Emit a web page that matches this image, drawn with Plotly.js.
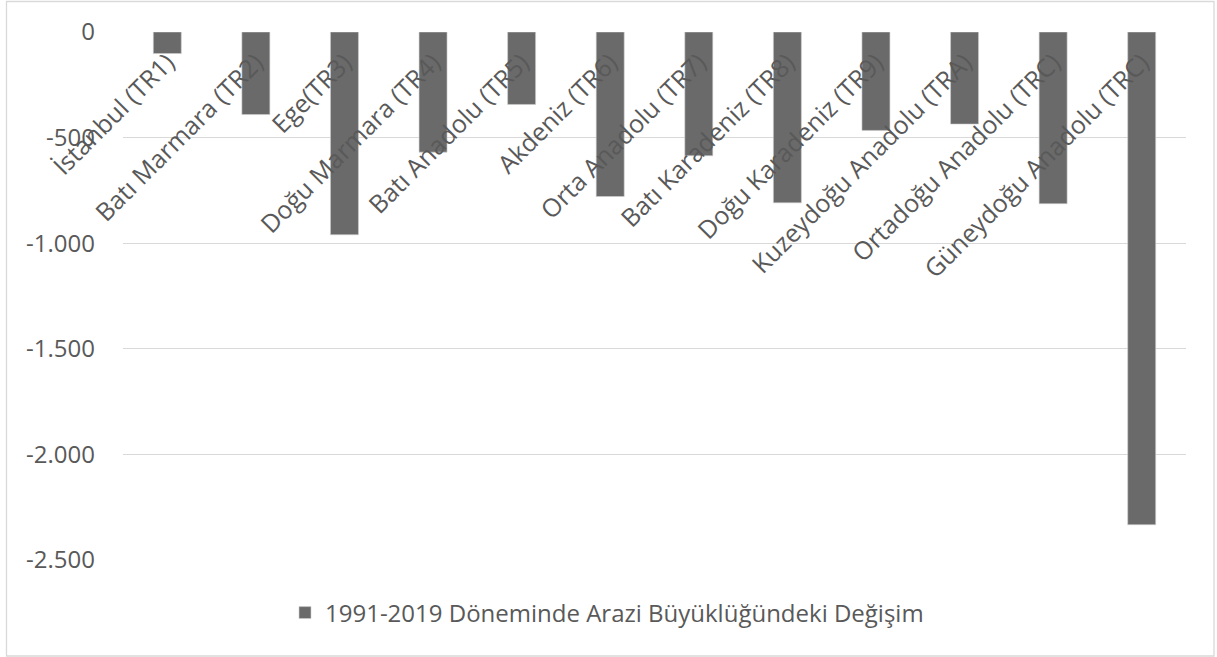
<!DOCTYPE html>
<html>
<head>
<meta charset="utf-8">
<script src="https://cdn.plot.ly/plotly-3.0.1.min.js"></script>
<style>
  html, body { margin: 0; padding: 0; background: #ffffff; }
  #chart { width: 1217px; height: 657px; }
</style>
</head>
<body>
<div id="chart"></div>
<script>
const categories = [
  "İstanbul (TR1)",
  "Batı Marmara (TR2)",
  "Ege(TR3)",
  "Doğu Marmara (TR4)",
  "Batı Anadolu (TR5)",
  "Akdeniz (TR6)",
  "Orta Anadolu (TR7)",
  "Batı Karadeniz (TR8)",
  "Doğu Karadeniz (TR9)",
  "Kuzeydoğu Anadolu (TRA)",
  "Ortadoğu Anadolu (TRC)",
  "Güneydoğu Anadolu (TRC)"
];
const changeValues = [-102, -391, -960, -569, -343, -779, -586, -809, -466, -436, -813, -2333];
const seriesName = "1991-2019 Döneminde Arazi Büyüklüğündeki Değişim";
const yTickValues = [0, -500, -1000, -1500, -2000, -2500];
const yTickLabels = ["0", "-500", "-1.000", "-1.500", "-2.000", "-2.500"];

const W = 1217, H = 657;
const mL = 123, mR = 31, mT = 32, mB = 97;
const pw = W - mL - mR, ph = H - mT - mB;
const px = x => (x - mL) / pw;
const py = y => (H - mB - y) / ph;

const font = "Open Sans, Noto Sans, sans-serif";
const txtColor = "#595959";

const trace = {
  type: "bar",
  x: categories,
  y: changeValues,
  name: seriesName,
  marker: { color: "#6a6a6a", line: { color: "#d0d0d0", width: 0.6 } },
  showlegend: true
};

const layout = {
  width: W, height: H,
  margin: { l: mL, r: mR, t: mT, b: mB, pad: 0 },
  paper_bgcolor: "#ffffff",
  plot_bgcolor: "#ffffff",
  bargap: 0.684,
  font: { family: font, color: txtColor, size: 24 },
  xaxis: {
    type: "category",
    anchor: "free",
    position: 1,
    side: "bottom",
    tickangle: -45,
    ticks: "",
    showline: false,
    showgrid: false,
    automargin: false,
    ticklabelstandoff: 10,
    tickfont: { family: font, size: 25, color: txtColor },
    fixedrange: true
  },
  yaxis: {
    range: [-2500, 0],
    tickvals: yTickValues,
    ticktext: yTickLabels,
    showgrid: true,
    gridcolor: "#d9d9d9",
    gridwidth: 1.3,
    zeroline: false,
    showline: false,
    ticks: "",
    ticklabelstandoff: 27,
    automargin: false,
    tickfont: { family: font, size: 24, color: txtColor },
    fixedrange: true
  },
  showlegend: true,
  legend: {
    orientation: "h",
    x: px(285), xanchor: "left",
    y: py(613), yanchor: "middle",
    font: { family: font, size: 24, color: txtColor },
    bgcolor: "rgba(0,0,0,0)"
  },
  shapes: [{
    type: "rect", xref: "paper", yref: "paper",
    x0: px(6.5), x1: px(1214), y0: py(656), y1: py(1.5),
    line: { color: "#d9d9d9", width: 1.3 },
    fillcolor: "rgba(0,0,0,0)", layer: "below"
  }]
};

Plotly.newPlot("chart", [trace], layout, { displayModeBar: false, staticPlot: true });
</script>
</body>
</html>
